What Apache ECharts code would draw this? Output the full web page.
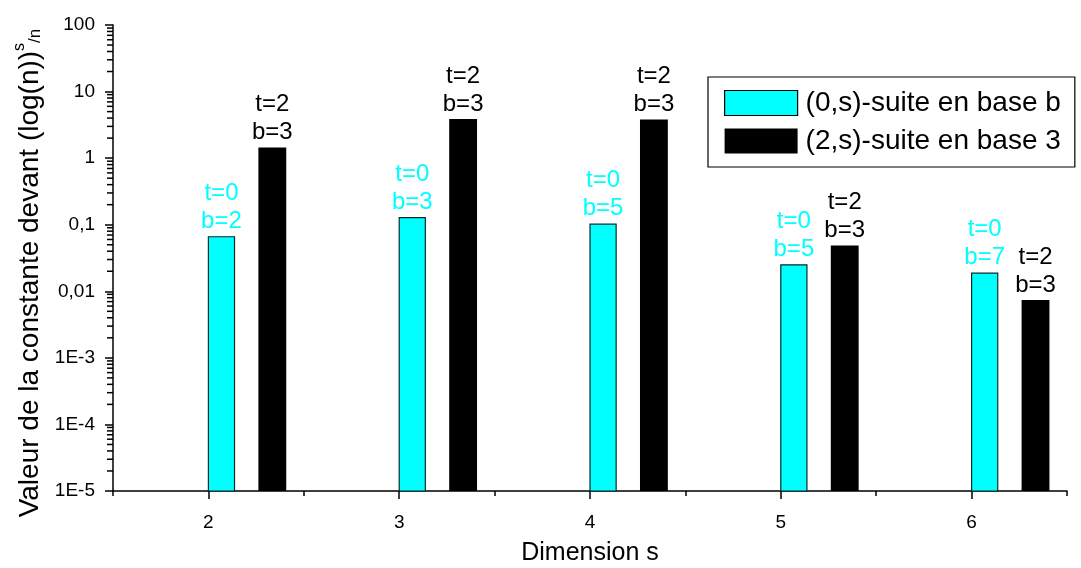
<!DOCTYPE html>
<html>
<head>
<meta charset="utf-8">
<script src="https://cdn.jsdelivr.net/npm/echarts@6/dist/echarts.min.js"></script>
<style>
  html, body { margin: 0; padding: 0; background: #fff; }
  #chart { width: 1081px; height: 568px; }
</style>
</head>
<body>
<div id="chart"></div>
<script>
// ---- data ----
var dimensions = [2, 3, 4, 5, 6];
var seriesNames = ['(0,s)-suite en base b', '(2,s)-suite en base 3'];
var valuesT0 = [0.066, 0.128, 0.102, 0.025, 0.0187];
var valuesT2 = [1.45, 3.86, 3.8, 0.0486, 0.0074];
var tT0 = [0, 0, 0, 0, 0];
var bT0 = [2, 3, 5, 5, 7];
var tT2 = [2, 2, 2, 2, 2];
var bT2 = [3, 3, 3, 3, 3];
var xTickLabels = ['2', '3', '4', '5', '6'];
var yTickLabels = ['1E-5', '1E-4', '1E-3', '0,01', '0,1', '1', '10', '100'];

var FONT = '"Liberation Sans", Arial, sans-serif';
var X_MIN = 1.5, X_MAX = 6.5;
var Y_MIN = 1e-5, Y_MAX = 100;

// minor log ticks (2..9 in each decade)
var minorY = [];
for (var e = -5; e < 2; e++) {
  for (var m = 2; m <= 9; m++) minorY.push(m * Math.pow(10, e));
}
var halfTicks = [1.5, 2.5, 3.5, 4.5, 5.5, 6.5];

function makeData(vals, ts, bs) {
  return dimensions.map(function (d, i) { return [d, vals[i], ts[i], bs[i]]; });
}

function barRenderer(offset, width, color, stroke, labelColor) {
  return function (params, api) {
    var s = api.value(0), v = api.value(1);
    var p0 = api.coord([s + offset, v]);
    var p1 = api.coord([s + offset + width, Y_MIN]);
    return {
      type: 'rect',
      shape: { x: p0[0], y: p0[1], width: p1[0] - p0[0], height: p1[1] - p0[1] },
      style: { fill: color, stroke: stroke, lineWidth: stroke ? 1.2 : 0 },
      textContent: {
        style: {
          text: 't=' + api.value(2) + '\nb=' + api.value(3),
          fill: labelColor,
          fontSize: 24,
          lineHeight: 28,
          fontFamily: FONT,
          align: 'center'
        }
      },
      textConfig: { position: 'top', distance: 1 }
    };
  };
}

var chart = echarts.init(document.getElementById('chart'), null, { renderer: 'canvas' });

var axisLineStyle = { color: '#000', width: 1.5 };

chart.setOption({
  animation: false,
  backgroundColor: '#fff',
  grid: { left: 113, right: 14, top: 25, bottom: 77, containLabel: false, outerBoundsMode: 'none' },
  legend: {
    orient: 'vertical',
    left: 708,
    top: 77,
    itemWidth: 73,
    itemHeight: 25,
    itemGap: 10,
    padding: [12, 14, 12, 16],
    borderColor: '#000',
    borderWidth: 1.2,
    backgroundColor: '#fff',
    textStyle: { fontSize: 28, fontFamily: FONT, color: '#000', padding: [0, 0, 0, 3] },
    data: [
      { name: seriesNames[0], icon: 'rect', itemStyle: { color: '#00FFFF', borderColor: '#000', borderWidth: 1.2 } },
      { name: seriesNames[1], icon: 'rect', itemStyle: { color: '#000', borderWidth: 0 } }
    ]
  },
  xAxis: [
    {
      type: 'value',
      min: X_MIN, max: X_MAX, interval: 0.5,
      position: 'bottom',
      name: 'Dimension s',
      nameLocation: 'middle',
      nameGap: 50,
      nameTextStyle: { fontSize: 25, fontFamily: FONT, color: '#000' },
      splitLine: { show: false },
      axisLine: { show: true, onZero: false, lineStyle: axisLineStyle },
      axisTick: { show: true, length: 8, inside: false, lineStyle: axisLineStyle,
                  customValues: dimensions },
      axisLabel: {
        fontSize: 19, fontFamily: FONT, color: '#000', margin: 22,
        customValues: dimensions,
        formatter: function (v) { var i = dimensions.indexOf(v); return i >= 0 ? xTickLabels[i] : ''; }
      }
    },
    {
      type: 'value',
      min: X_MIN, max: X_MAX, interval: 0.5,
      position: 'bottom',
      splitLine: { show: false },
      axisLine: { show: false, onZero: false },
      axisLabel: { show: false },
      axisTick: { show: true, length: 5, lineStyle: axisLineStyle, customValues: halfTicks }
    }
  ],
  yAxis: [
    {
      type: 'log',
      logBase: 10,
      min: Y_MIN, max: Y_MAX,
      position: 'left',
      name: '{m|Valeur de la constante devant (log(n))}{sup|s}{sm|/n}',
      nameLocation: 'middle',
      nameRotate: 90,
      nameGap: 66,
      nameTextStyle: {
        fontFamily: FONT, color: '#000',
        padding: [0, 30, 0, 0],
        rich: {
          m: { fontSize: 28, fontFamily: FONT, color: '#000', verticalAlign: 'bottom', lineHeight: 32 },
          sup: { fontSize: 16, fontFamily: FONT, color: '#000', verticalAlign: 'top', lineHeight: 32 },
          sm: { fontSize: 17, fontFamily: FONT, color: '#000', verticalAlign: 'bottom', lineHeight: 30 }
        }
      },
      splitLine: { show: false },
      axisLine: { show: true, onZero: false, lineStyle: axisLineStyle },
      axisTick: { show: true, length: 8, lineStyle: axisLineStyle },
      axisLabel: {
        fontSize: 19, fontFamily: FONT, color: '#000', margin: 18,
        formatter: function (v) {
          var i = Math.round(Math.log10(v)) + 5;
          return yTickLabels[i] !== undefined ? yTickLabels[i] : '';
        }
      }
    }
  ],
  series: [
    {
      name: seriesNames[0],
      type: 'custom',
      xAxisIndex: 0, yAxisIndex: 0,
      itemStyle: { color: '#00FFFF', borderColor: '#000' },
      encode: { x: 0, y: 1 },
      data: makeData(valuesT0, tT0, bT0),
      renderItem: barRenderer(0, 0.137, '#00FFFF', '#0b2b2b', '#00FFFF')
    },
    {
      name: seriesNames[1],
      type: 'custom',
      xAxisIndex: 0, yAxisIndex: 0,
      itemStyle: { color: '#000' },
      encode: { x: 0, y: 1 },
      data: makeData(valuesT2, tT2, bT2),
      renderItem: barRenderer(0.262, 0.146, '#000', null, '#000')
    },
    {
      name: 'minorTicksY',
      type: 'scatter',
      xAxisIndex: 0, yAxisIndex: 0,
      clip: false,
      silent: true,
      z: 10,
      symbol: 'rect',
      symbolSize: [6, 1.5],
      symbolOffset: [-3, 0],
      itemStyle: { color: '#000', opacity: 1 },
      data: minorY.map(function (v) { return [X_MIN, v]; })
    }
  ]
});
</script>
</body>
</html>
